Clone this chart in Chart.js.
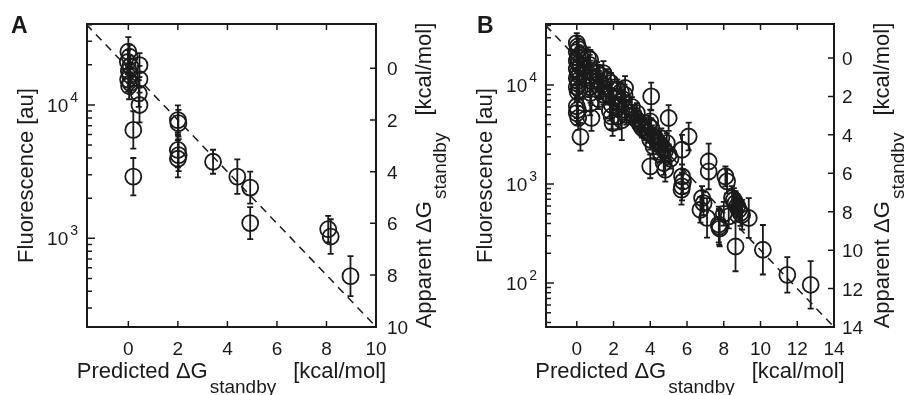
<!DOCTYPE html>
<html>
<head>
<meta charset="utf-8">
<script src="https://cdn.jsdelivr.net/npm/chart.js@4.4.1/dist/chart.umd.min.js"></script>
<style>
    body { margin: 0; background: #fff; }
    #wrap { position: relative; width: 904px; height: 395px; background: #fff; overflow: hidden; }
    canvas { position: absolute; top: 0; }
    #chartA { left: 0; }
    #chartB { left: 452px; }
</style>
</head>
<body>
<div id="wrap">
    <canvas id="chartA" width="452" height="395"></canvas>
    <canvas id="chartB" width="452" height="395"></canvas>
</div>
<script>
// Panel A: predicted dG (kcal/mol), fluorescence (au), error half-width in decades
const aX = [0.0, 0.05, -0.02, 0.08, 0.02, 0.06, -0.01, 0.08, 0.03, 0.45, 0.45, 0.42, 0.45, 0.2, 0.2,
    2.0, 2.02, 2.0, 2.03, 2.0, 3.42, 4.4, 4.92, 4.92, 8.07, 8.17, 8.97];
const aF = [25100, 23000, 21000, 19500, 18000, 16800, 15500, 14600, 13900, 19900, 15600, 12200, 10000, 6500, 2900,
    7700, 7300, 4600, 4200, 3950, 3750, 2900, 2400, 1300, 1170, 1030, 520];
const aErr = [0.11, 0.09, 0.09, 0.08, 0.09, 0.08, 0.09, 0.08, 0.1, 0.09, 0.1, 0.1, 0.13, 0.14, 0.14,
    0.11, 0.1, 0.13, 0.12, 0.14, 0.09, 0.13, 0.12, 0.12, 0.1, 0.13, 0.15];
const aXTicks = [0, 2, 4, 6, 8, 10];
const aRightTicks = [0, 2, 4, 6, 8, 10];
const aLogTicks = [1e3, 1e4];
const aDiag = [-1.7, 10];

// Panel B
const bX = [0.0, 0.05, 0.1, 0.0, 0.15, 0.05, 0.0, 0.1, 0.2, 0.0, 0.08, 0.15, 0.0, 0.05, 0.1, 0.0, 0.15, 0.05,
    0.0, 0.05, 0.0, 0.08, 0.2,
    0.6, 0.73, 0.7, 0.75, 0.7, 0.8, 0.7, 0.75, 0.73, 0.8,
    1.1, 1.25, 1.45, 1.2, 1.35, 1.3, 1.45, 1.2,
    1.65, 1.85, 1.9, 1.75, 2.0, 1.9, 1.9, 1.95, 1.8,
    2.2, 2.4, 2.63, 2.6, 2.5, 2.45, 2.3, 2.6, 2.7, 2.25, 2.45,
    3.0, 3.27, 3.1, 3.2, 3.35, 3.45, 3.55,
    4.05, 3.7, 3.85, 4.0, 4.05, 4.1, 4.0, 4.18, 4.25, 4.0, 3.9,
    4.4, 4.5, 4.6, 4.7, 4.8, 4.9, 5.0, 4.73, 4.82, 5.0, 5.1, 4.55,
    6.09, 5.73, 5.73, 5.78, 5.73, 5.7,
    7.18, 7.18, 6.82, 6.73, 7.09, 6.9,
    8.09, 8.18, 7.73, 7.75, 7.78, 8.27, 8.0,
    8.45, 8.55, 8.64, 8.73, 8.82, 8.91, 9.0, 9.36, 8.64,
    10.13, 11.46, 12.73];
const bF = [26500, 24500, 23000, 21500, 20000, 19000, 17500, 16500, 15500, 14500, 13500, 12500, 11800, 11000, 10200, 9500, 9000, 8500,
    6100, 5600, 5200, 4650, 3000,
    19000, 18000, 16000, 14000, 12500, 11000, 9500, 8300, 6500, 4650,
    13500, 12500, 13200, 11000, 10000, 9000, 8000, 7200,
    11500, 10500, 9000, 8000, 7300, 6300, 4820, 4130, 5500,
    9000, 8500, 9330, 8000, 7200, 6825, 6000, 5600, 5000, 4820, 4400,
    6000, 5210, 5000, 4600, 4300, 4000, 3700,
    7670, 3500, 3300, 4285, 3680, 3100, 2800, 2400, 2950, 1507, 3900,
    2700, 2500, 2900, 2300, 2150, 2600, 2000, 1630, 1393, 4640, 1800, 2100,
    3020, 2220, 1194, 1063, 946, 876,
    1690, 1340, 723, 550, 455, 640,
    1194, 1063, 390, 370, 355, 471, 500,
    723, 690, 643, 600, 550, 509, 490, 454, 234,
    217, 121, 96];
const bErr = [0.1, 0.1, 0.1, 0.1, 0.1, 0.1, 0.1, 0.1, 0.1, 0.1, 0.1, 0.1, 0.1, 0.1, 0.1, 0.1, 0.1, 0.1,
    0.12, 0.12, 0.12, 0.12, 0.14,
    0.1, 0.1, 0.1, 0.1, 0.1, 0.1, 0.1, 0.1, 0.12, 0.13,
    0.1, 0.1, 0.12, 0.1, 0.1, 0.1, 0.1, 0.1,
    0.1, 0.1, 0.1, 0.1, 0.1, 0.1, 0.13, 0.13, 0.1,
    0.1, 0.1, 0.12, 0.1, 0.1, 0.1, 0.1, 0.1, 0.1, 0.13, 0.2,
    0.1, 0.1, 0.1, 0.1, 0.1, 0.1, 0.1,
    0.14, 0.1, 0.1, 0.12, 0.1, 0.1, 0.1, 0.12, 0.1, 0.12, 0.1,
    0.1, 0.1, 0.1, 0.1, 0.1, 0.1, 0.1, 0.12, 0.12, 0.13, 0.1, 0.1,
    0.14, 0.15, 0.12, 0.12, 0.14, 0.15,
    0.18, 0.18, 0.12, 0.13, 0.2, 0.12,
    0.1, 0.12, 0.18, 0.18, 0.18, 0.12, 0.12,
    0.12, 0.12, 0.12, 0.12, 0.12, 0.13, 0.15, 0.2, 0.25,
    0.25, 0.18, 0.24];
const bXTicks = [0, 2, 4, 6, 8, 10, 12, 14];
const bRightTicks = [0, 2, 4, 6, 8, 10, 12, 14];
const bLogTicks = [1e2, 1e3, 1e4];
const bDiag = [-1.7, 14];

const INK = "#1a1a1a";
const FONT = "'Liberation Sans', Arial, Helvetica, sans-serif";

// title with a subscript part, optionally rotated to read bottom-up
function drawTitle(ctx, prefix, sub, suffix, center, base, rotated) {
    ctx.save();
    ctx.font = `22px ${FONT}`;
    const w1 = ctx.measureText(prefix).width;
    const w3 = ctx.measureText(suffix).width;
    ctx.font = `19px ${FONT}`;
    const w2 = ctx.measureText(sub).width;
    const gap = 17;
    const total = w1 + 2 + w2 + gap + w3;
    if (rotated) {
        ctx.translate(base, center);
        ctx.rotate(-Math.PI / 2);
    } else {
        ctx.translate(center, base);
    }
    const x0 = -total / 2;
    ctx.fillStyle = INK;
    ctx.textAlign = "left";
    ctx.textBaseline = "alphabetic";
    ctx.font = `22px ${FONT}`;
    ctx.fillText(prefix, x0, 0);
    ctx.font = `19px ${FONT}`;
    ctx.fillText(sub, x0 + w1 + 2, 15);
    ctx.font = `22px ${FONT}`;
    ctx.fillText(suffix, x0 + w1 + 2 + w2 + gap, 0);
    ctx.restore();
}

function makePanel(canvasId, p) {
    const panelPlugin = {
        id: "panel_" + canvasId,
        afterDatasetsDraw(chart) {
            const ctx = chart.ctx, a = chart.chartArea;
            const sx = chart.scales.x, sy = chart.scales.y;
            ctx.save();
            ctx.beginPath();
            ctx.rect(a.left, a.top, a.right - a.left, a.bottom - a.top);
            ctx.clip();
            ctx.strokeStyle = INK;
            ctx.lineWidth = 1.8;
            ctx.beginPath();
            p.xs.forEach((x, i) => {
                const px = sx.getPixelForValue(x);
                const hi = sy.getPixelForValue(p.fs[i] * Math.pow(10, p.err[i]));
                const lo = sy.getPixelForValue(p.fs[i] / Math.pow(10, p.err[i]));
                ctx.moveTo(px, hi); ctx.lineTo(px, lo);
                ctx.moveTo(px - 3, hi); ctx.lineTo(px + 3, hi);
                ctx.moveTo(px - 3, lo); ctx.lineTo(px + 3, lo);
            });
            ctx.stroke();
            ctx.restore();
        },
        afterDraw(chart) {
            const ctx = chart.ctx, a = chart.chartArea;
            const sx = chart.scales.x, sy = chart.scales.y, sr = chart.scales.y2;
            ctx.save();
            ctx.strokeStyle = INK;
            ctx.fillStyle = INK;
            ctx.lineWidth = 1.5;
            ctx.beginPath();
            p.xTicks.forEach(v => {
                const px = sx.getPixelForValue(v);
                ctx.moveTo(px, a.bottom); ctx.lineTo(px, a.bottom - 6);
                ctx.moveTo(px, a.top); ctx.lineTo(px, a.top + 6);
            });
            p.rightTicks.forEach(v => {
                const py = sr.getPixelForValue(v);
                ctx.moveTo(a.right, py); ctx.lineTo(a.right - 6, py);
            });
            for (let d = Math.floor(Math.log10(sy.min)); d <= Math.ceil(Math.log10(sy.max)); d++) {
                for (let k = 1; k <= 9; k++) {
                    const v = k * Math.pow(10, d);
                    if (v < sy.min || v > sy.max) continue;
                    const py = sy.getPixelForValue(v);
                    ctx.moveTo(a.left, py); ctx.lineTo(a.left + (k === 1 ? 8 : 5), py);
                }
            }
            ctx.stroke();
            ctx.lineWidth = 2;
            ctx.strokeRect(a.left, a.top, a.right - a.left, a.bottom - a.top);

            // tick labels
            ctx.textBaseline = "alphabetic";
            ctx.font = `19px ${FONT}`;
            ctx.textAlign = "center";
            p.xTicks.forEach(v => ctx.fillText(String(v), sx.getPixelForValue(v), a.bottom + 28));
            ctx.textAlign = "left";
            p.rightTicks.forEach(v => ctx.fillText(String(v), a.right + p.rightGap, sr.getPixelForValue(v) + 7));
            ctx.textAlign = "right";
            p.logTicks.forEach(v => {
                const py = sy.getPixelForValue(v);
                const exp = String(Math.round(Math.log10(v)));
                ctx.font = `14px ${FONT}`;
                const we = ctx.measureText(exp).width;
                const right = a.left - 9;
                ctx.fillText(exp, right, py - 3);
                ctx.font = `19px ${FONT}`;
                ctx.fillText("10", right - we - 2, py + 7);
            });

            // axis titles
            const midX = (a.left + a.right) / 2, midY = (a.top + a.bottom) / 2;
            drawTitle(ctx, "Predicted \u0394G", "standby", "[kcal/mol]", midX, 378, false);
            drawTitle(ctx, "Apparent \u0394G", "standby", "[kcal/mol]", midY, a.right + 55, true);
            ctx.save();
            ctx.translate(a.left - 54, midY);
            ctx.rotate(-Math.PI / 2);
            ctx.font = `22px ${FONT}`;
            ctx.textAlign = "center";
            ctx.fillText("Fluorescence [au]", 0, 0);
            ctx.restore();

            ctx.font = `bold 23px ${FONT}`;
            ctx.textAlign = "left";
            ctx.fillText(p.letter, p.letterX, 33);
            ctx.restore();
        }
    };

    return new Chart(document.getElementById(canvasId), {
        type: "scatter",
        data: {
            datasets: [
                {
                    data: p.diag.map(v => ({ x: v, y: v })),
                    yAxisID: "y2",
                    showLine: true,
                    borderColor: INK,
                    borderWidth: 1.5,
                    borderDash: [8, 6],
                    pointRadius: 0
                },
                {
                    data: p.xs.map((x, i) => ({ x, y: p.fs[i] })),
                    yAxisID: "y",
                    pointStyle: "circle",
                    pointRadius: 8,
                    pointHoverRadius: 8,
                    pointBorderWidth: 1.8,
                    pointBorderColor: INK,
                    pointBackgroundColor: "rgba(0,0,0,0)"
                }
            ]
        },
        options: {
            responsive: false,
            animation: false,
            events: [],
            layout: { padding: p.padding },
            plugins: { legend: { display: false }, tooltip: { enabled: false } },
            scales: {
                x: { type: "linear", min: p.xRange[0], max: p.xRange[1], display: false },
                y: { type: "logarithmic", min: p.yRange[0], max: p.yRange[1], bounds: "data", display: false },
                y2: { type: "linear", position: "right", reverse: true, min: p.rRange[0], max: p.rRange[1], display: false }
            }
        },
        plugins: [panelPlugin]
    });
}

makePanel("chartA", {
    xs: aX, fs: aF, err: aErr, diag: aDiag,
    xTicks: aXTicks, rightTicks: aRightTicks, logTicks: aLogTicks,
    padding: { left: 87, top: 24, right: 76, bottom: 68 },
    xRange: [-1.67, 10], yRange: [216, 40500], rRange: [-1.714, 10.01],
    rightGap: 11, letter: "A", letterX: 11
});

makePanel("chartB", {
    xs: bX, fs: bF, err: bErr, diag: bDiag,
    xTicks: bXTicks, rightTicks: bRightTicks, logTicks: bLogTicks,
    padding: { left: 94, top: 24, right: 70, bottom: 68 },
    xRange: [-1.675, 14], yRange: [36, 41300], rRange: [-1.77, 14],
    rightGap: 8, letter: "B", letterX: 25
});
</script>
</body>
</html>
